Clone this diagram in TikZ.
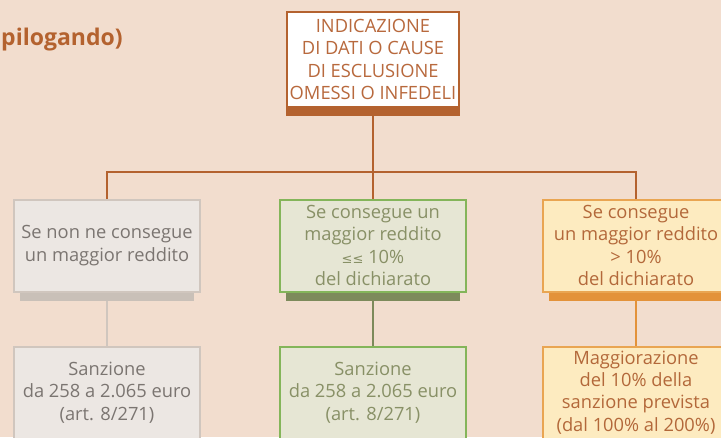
\documentclass[tikz,border=0pt]{standalone}
\usepackage{fontspec}
\setmainfont{Open Sans}
\newfontfamily\symfont{DejaVu Sans}
\usetikzlibrary{positioning}

\definecolor{sfondo}{HTML}{F2DDCE}
\definecolor{marrone}{HTML}{B4622F}
\definecolor{marronetxt}{HTML}{B8693D}
\definecolor{grigiofill}{HTML}{ECE7E3}
\definecolor{grigiobordo}{HTML}{D0C6BE}
\definecolor{grigioombra}{HTML}{C9C0B8}
\definecolor{grigiotxt}{HTML}{7B7571}
\definecolor{verdefill}{HTML}{E6E6D4}
\definecolor{verdebordo}{HTML}{84B55A}
\definecolor{verdeombra}{HTML}{7D8A5B}
\definecolor{verdetxt}{HTML}{889066}
\definecolor{arancfill}{HTML}{FDEBC0}
\definecolor{arancbordo}{HTML}{E9A552}
\definecolor{arancombra}{HTML}{E3923A}
\definecolor{aranctxt}{HTML}{B3683A}

\begin{document}
\begin{tikzpicture}[x=1pt,y=-1pt,
every node/.style={align=center,inner sep=0,font=\fontsize{18.3}{22.4}\selectfont},
box/.style={draw,line width=2pt,minimum width=186pt,minimum height=92pt},
grigio/.style={box,fill=grigiofill,draw=grigiobordo,text=grigiotxt},
verde/.style={box,fill=verdefill,draw=verdebordo,text=verdetxt},
arancio/.style={box,fill=arancfill,draw=arancbordo,text=aranctxt},
conn/.style={line width=2.8pt}]

\fill[sfondo] (0,0) rectangle (721,437);
\useasboundingbox (0,0) rectangle (721,437);

% Nodes
\node[anchor=base west,text=marrone,font=\fontsize{23}{26}\bfseries] (titolo) at (1,45) {pilogando)};
\node[box,fill=white,draw=marrone,text=marronetxt,minimum width=172pt,minimum height=95pt] (top) at (373,59.5)
  {INDICAZIONE\\DI DATI O CAUSE\\DI ESCLUSIONE\\OMESSI O INFEDELI};

\node[grigio] (c1) at (107,245.5) {Se non ne consegue\\un maggior reddito};
\node[verde] (c2) at (373,245.5) {Se consegue un\\maggior reddito\\{\symfont\fontsize{13}{22.4}\selectfont ≤≤} 10\%\\del dichiarato};
\node[arancio] (c3) at (636,245.5) {Se consegue\\un maggior reddito\\> 10\%\\del dichiarato};

\node[grigio,below=53pt of c1] (s1) {Sanzione\\da 258 a 2.065 euro\\(art. 8/271)};
\node[verde,below=53pt of c2] (s2) {Sanzione\\da 258 a 2.065 euro\\(art. 8/271)};
\node[arancio,below=53pt of c3] (s3) {Maggiorazione\\del 10\% della\\sanzione prevista\\(dal 100\% al 200\%)};

\coordinate (fork) at (373,172);

%arcs
\draw[conn,marrone] (top.south) -- (fork);
\draw[conn,marrone] (c1.north) |- (fork) -| (c3.north);
\draw[conn,marrone] (fork) -- (c2.north);
\draw[conn,grigiobordo] (c1.south) -- (s1.north);
\draw[conn,verdeombra] (c2.south) -- (s2.north);
\draw[conn,arancombra] (c3.south) -- (s3.north);

% ombre
\fill[marrone] ([yshift=1pt]top.south west) rectangle ([yshift=-8pt]top.south east);
\fill[grigioombra] ([xshift=7pt]c1.south west) rectangle ([xshift=-7pt,yshift=-8pt]c1.south east);
\fill[verdeombra] ([xshift=7pt]c2.south west) rectangle ([xshift=-7pt,yshift=-8pt]c2.south east);
\fill[arancombra] ([xshift=7pt]c3.south west) rectangle ([xshift=-7pt,yshift=-8pt]c3.south east);

\end{tikzpicture}
\end{document}
